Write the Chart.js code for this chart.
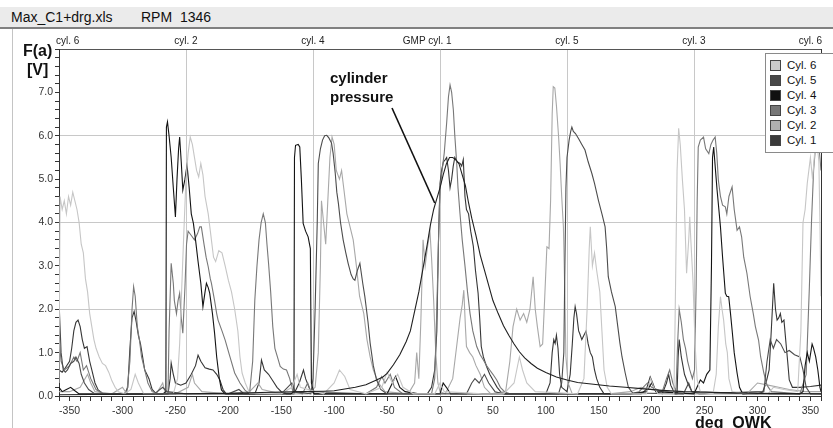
<!DOCTYPE html>
<html>
<head>
<meta charset="utf-8">
<script src="https://cdn.jsdelivr.net/npm/chart.js@4"></script>
<style>
  body { margin: 0; background: #fff; width: 833px; height: 428px; overflow: hidden; position: relative; font-family: "Liberation Sans", Arial, sans-serif; }
  #bar { position: absolute; left: 0; top: 7px; width: 833px; height: 20px; background: #ebebeb; border-bottom: 2px solid #808080; }
  #bar span { position: absolute; top: 0; line-height: 20px; font-size: 14px; color: #111; white-space: pre; }
  #frame { position: absolute; left: 12px; top: 29px; width: 1px; height: 399px; background: #c4c4c4; }
  canvas { position: absolute; left: 0; top: 0; }
  .lbl { position: absolute; font-weight: bold; color: #111; white-space: pre; line-height: 16px; font-size: 16px; }
  .note { position: absolute; font-weight: bold; color: #111; font-size: 15px; line-height: 19px; left: 330px; top: 68px; }
  #legend { position: absolute; left: 765px; top: 53px; width: 75px; height: 98px; border: 1px solid #8a8a8a; background: #fff; }
  .row { position: absolute; left: 4px; height: 12px; line-height: 12px; font-size: 11.5px; font-family: "Liberation Sans Narrow", "Liberation Sans", Arial, sans-serif; color: #111; }
  .sw { position: absolute; left: 0; top: 1px; width: 9px; height: 9px; border: 1px solid #444; }
  .row span { position: absolute; left: 17px; top: 0; white-space: pre; }
</style>
</head>
<body>
<div id="bar"><span style="left:11px">Max_C1+drg.xls</span><span style="left:141px">RPM  1346</span></div>
<div id="frame"></div>
<canvas id="c" width="833" height="428"></canvas>
<div class="lbl" style="left:23px;top:43px">F(a)</div>
<div class="lbl" style="left:27px;top:62px">[V]</div>
<div class="lbl" style="left:695px;top:415px">deg  OWK</div>
<div class="note">cylinder<br>pressure</div>
<div id="legend"></div>
<script>
// crank angle in degrees, sensor signal in volts
const cyl6 = [[-360,0.3],[-359,4.6],[-357,4.3],[-355,4.5],[-353,4.2],[-351,4.6],[-349,4.4],[-347,4.7],[-345,4.5],[-343,4.3],[-341,4.0],[-339,3.5],[-337,3.3],[-335,2.7],[-333,2.4],[-331,1.9],[-329,1.6],[-327,1.3],[-325,1.1],[-322,0.9],[-319,0.75],[-316,0.7],[-313,0.55],[-310,0.35],[-307,0.2],[-304,0.1],[-298,0.05],[-292,0.15],[-288,0.5],[-285,0.3],[-280,0.05],[-252,0.05],[-248,0.4],[-246,1.2],[-244,2.5],[-242,3.8],[-240,5.0],[-238,5.6],[-236,5.97],[-234,5.8],[-232,5.5],[-230,5.2],[-228,5.05],[-226,5.36],[-224,5.1],[-222,4.6],[-219,4.2],[-217,3.8],[-214,3.2],[-212,3.1],[-209,3.35],[-206,3.3],[-203,3.0],[-200,2.67],[-197,2.4],[-194,2.0],[-191,1.5],[-189,0.9],[-187,0.53],[-184,0.3],[-180,0.07],[-150,0.05],[-140,0.2],[-135,0.5],[-132,0.2],[-110,0.05],[-100,0.3],[-95,0.6],[-90,0.45],[-85,0.15],[-70,0.05],[-55,0.2],[-50,0.55],[-45,0.3],[-40,0.5],[-35,0.2],[-25,0.05],[-5,0.05],[0,0.3],[4,0.1],[40,0.05],[60,0.05],[70,0.3],[75,0.9],[78,0.6],[82,0.3],[90,0.1],[130,0.05],[136,0.4],[139,2.0],[141,3.4],[142,3.9],[144,3.0],[146,3.3],[148,2.9],[151,2.4],[153,1.5],[155,0.6],[158,0.2],[162,0.05],[195,0.05],[199,0.4],[202,0.2],[206,0.05],[221,0.05],[222,1.5],[224,5.2],[225.5,6.17],[227,5.8],[229,5.0],[231,4.3],[233,2.83],[235,3.6],[236,4.13],[237,3.6],[239,2.67],[241,1.2],[243,0.37],[246,0.1],[258,0.05],[261,0.5],[263,1.6],[265,2.29],[266.5,2.0],[268,1.75],[270,1.2],[271.5,1.0],[273,0.4],[276,0.1],[290,0.05],[310,0.05],[315,0.2],[325,0.15],[338,0.1],[341,1.5],[343,4.0],[345,4.3],[347,4.9],[349,5.3],[350,5.5],[352,5.0],[354,5.6],[356,5.9],[358,5.4],[359,4.0],[360,2.3]];

const cyl5 = [[-360,2.2],[-359,1.6],[-358,1.0],[-356,0.6],[-354,0.55],[-352,0.6],[-349,0.75],[-346,0.8],[-344,0.9],[-341,0.75],[-339,0.5],[-336,0.3],[-332,0.15],[-326,0.05],[-270,0.05],[-262,0.2],[-258,0.1],[-240,0.05],[-200,0.05],[-190,0.15],[-185,0.05],[-150,0.05],[-140,0.3],[-137,0.1],[-122,0.05],[-120,0.4],[-118,2.0],[-116,4.0],[-115,5.36],[-113,5.7],[-111,5.9],[-109,6.0],[-107,6.01],[-105,5.95],[-102.5,5.83],[-101,5.6],[-99,5.14],[-97.5,4.7],[-96,4.44],[-94,4.0],[-91.5,3.6],[-89,3.3],[-86.8,3.06],[-84,2.8],[-82,2.7],[-80.4,2.67],[-78,2.9],[-75.7,3.06],[-73,2.6],[-71,2.29],[-68,1.7],[-66,1.22],[-63,0.7],[-60,0.37],[-56,0.15],[-50,0.05],[25,0.05],[30,0.3],[33,0.4],[37,0.3],[42,0.5],[46,0.3],[52,0.1],[60,0.05],[112,0.05],[115,0.3],[117,1.0],[118,3.0],[119,4.8],[120,5.5],[122,5.9],[123.5,6.1],[124.6,6.2],[126,6.1],[128,6.05],[131,5.93],[134,5.8],[137,5.67],[140,5.4],[143.5,5.13],[146,4.9],[149.8,4.5],[153,4.2],[156,3.9],[157.5,3.4],[159,2.75],[162,2.4],[165.6,2.06],[168,1.6],[170,1.22],[172,0.9],[175,0.53],[178,0.2],[182,0.07],[230,0.05],[235,0.3],[238,0.1],[300,0.05],[306,0.1],[309,0.8],[312,1.3],[315,1.1],[318,1.3],[322,1.2],[326,1.0],[330,1.05],[335,0.95],[340,0.9],[343,0.6],[346,0.2],[350,0.05],[360,0.05]];

const cyl4 = [[-360,0.2],[-357,0.1],[-353,0.15],[-349,0.2],[-345,0.12],[-341,0.05],[-300,0.05],[-262,0.05],[-259,0.1],[-258.5,6.2],[-257.5,6.32],[-256,6.0],[-254,5.5],[-252,4.8],[-250,4.13],[-248.5,5.0],[-247,5.7],[-246,5.97],[-244.5,5.4],[-243,4.75],[-241,5.0],[-239,5.32],[-237,4.8],[-235,4.2],[-233,3.98],[-231,3.6],[-228.6,3.1],[-226,2.6],[-224,2.06],[-222,2.4],[-220.7,2.6],[-219,2.5],[-217.6,2.37],[-215,1.9],[-213,1.45],[-211,0.9],[-208.5,0.4],[-206.5,0.14],[-203,0.05],[-141,0.05],[-138,0.1],[-137.5,5.5],[-136.5,5.78],[-134,5.8],[-132.5,5.74],[-131,5.0],[-129.3,3.98],[-127,3.8],[-124.6,3.67],[-122.5,3.4],[-121.5,0.3],[-119,0.05],[-50,0.05],[-45,0.3],[-42,0.45],[-38,0.2],[-33,0.1],[-20,0.05],[0,0.05],[3,0.3],[6,0.2],[10,0.05],[180,0.05],[195,0.1],[200,0.3],[204,0.1],[240,0.05],[246,0.37],[249,0.3],[252,0.5],[255,0.6],[256.5,3.0],[257.5,5.5],[258.6,5.74],[260,5.3],[261.8,4.75],[263.5,4.3],[265,3.9],[267,3.2],[269.6,2.37],[271,2.3],[272.8,2.29],[274.5,1.9],[276,1.52],[278,1.0],[280.7,0.53],[283,0.2],[286,0.05],[340,0.05],[343,0.1],[345,0.7],[347,1.0],[349,0.8],[351.6,1.2],[353,1.1],[355,0.9],[357,0.6],[359,0.2],[360,0.1]];

const cyl3 = [[-360,1.3],[-358,0.8],[-355,0.6],[-350,0.7],[-346,0.9],[-343,0.8],[-340,1.0],[-337,0.6],[-334,0.7],[-330,0.4],[-325,0.15],[-318,0.05],[-296,0.05],[-293,0.8],[-291,2.0],[-289.5,2.52],[-288,2.3],[-286,1.6],[-284,1.29],[-282,0.9],[-279,0.6],[-276,0.3],[-272,0.1],[-266,0.05],[-257,0.05],[-256,1.5],[-254,3.06],[-252,2.6],[-251,2.2],[-249,1.9],[-247.5,2.2],[-246,2.37],[-244.5,1.8],[-243,1.45],[-241,2.5],[-239.5,3.5],[-238,3.8],[-235,3.7],[-232,3.6],[-229,3.75],[-227,3.9],[-225.5,3.9],[-223,3.5],[-221,3.2],[-219,2.98],[-217,2.7],[-216,2.6],[-213,2.2],[-211,1.9],[-209.7,1.75],[-206,1.5],[-203,1.29],[-199,0.95],[-194,0.53],[-189,0.3],[-184.5,0.14],[-180,0.05],[-177,0.8],[-175,2.2],[-173,2.98],[-171,3.6],[-169,4.0],[-167,4.2],[-165,4.0],[-163.5,3.5],[-162,3.06],[-160,2.4],[-158,1.6],[-156,1.1],[-153,0.85],[-151,0.68],[-148,0.62],[-145,0.6],[-142,0.4],[-139,0.1],[-130,0.05],[-125,0.3],[-122,0.1],[-70,0.05],[-60,0.2],[-55,0.45],[-52,0.3],[-47,0.5],[-43,0.2],[-35,0.05],[-8,0.05],[-5,0.4],[-3,2.0],[-1,4.0],[0,4.75],[2,5.2],[4,5.6],[6.3,6.3],[8,6.9],[9.5,7.17],[11,7.0],[12.6,6.6],[14,6.0],[15.8,5.36],[17,4.8],[18.9,4.2],[21,3.6],[23.6,3.0],[26,2.4],[28.4,1.9],[31,1.5],[34.7,1.14],[38,0.95],[41,0.83],[44,0.7],[47,0.6],[50,0.5],[53.6,0.37],[57,0.2],[61,0.1],[66,0.05],[180,0.05],[188,0.1],[196,0.3],[200,0.2],[210,0.1],[214,0.4],[217,0.6],[220,0.3],[223,0.1],[224.5,1.2],[226,2.0],[228,1.7],[230,1.3],[232,1.1],[234,0.8],[236,0.6],[238.5,0.4],[240.5,0.6],[242,2.5],[243,4.5],[244,5.74],[246,5.9],[249,5.97],[251,5.7],[254,5.59],[256,5.8],[258,5.9],[260,5.97],[261.5,5.6],[263,4.98],[265,4.6],[267,4.4],[269.6,4.36],[271,4.2],[273,4.6],[276,4.82],[278,4.3],[280.7,3.82],[283,3.9],[285,3.67],[287,3.2],[290,2.83],[293,2.3],[296,1.9],[298,1.6],[301,1.29],[303,0.9],[306,0.53],[309,0.25],[313,0.1],[340,0.05],[346,0.5],[349,2.5],[351,4.0],[353,5.2],[355,5.8],[357,6.0],[359,5.5],[360,5.2]];

const cyl2 = [[-360,0.1],[-350,0.1],[-340,0.2],[-333,0.5],[-330,0.3],[-326,0.1],[-310,0.05],[-300,0.2],[-296,0.05],[-268,0.05],[-262,0.3],[-260,0.1],[-250,0.05],[-238,0.2],[-234,0.5],[-232,0.3],[-225,0.1],[-200,0.05],[-180,0.1],[-172,0.3],[-168,0.15],[-150,0.05],[-125,0.05],[-118,0.2],[-115,1.0],[-113,3.0],[-112,4.5],[-110,4.0],[-108,3.5],[-106,4.5],[-104,5.5],[-102,5.97],[-100,5.8],[-98,5.2],[-95,5.0],[-93,5.2],[-91,4.8],[-88,4.2],[-85,3.9],[-82,3.6],[-79,3.0],[-76,2.3],[-72,1.9],[-69,1.3],[-66,0.9],[-63,0.6],[-58,0.3],[-52,0.1],[-30,0.05],[-24,0.3],[-22,1.0],[-20,0.4],[-18,1.8],[-16,3.6],[-14,3.0],[-12,3.4],[-9.5,3.8],[-8,3.2],[-6,2.2],[-4,1.0],[-2,0.3],[0,0.1],[5,0.05],[12,0.4],[16,1.2],[19,1.8],[21,2.1],[22.5,2.44],[24,1.6],[25,1.14],[28,1.0],[31,0.9],[34,0.7],[38,0.5],[42,0.2],[48,0.05],[62,0.1],[66,0.8],[69,1.6],[72.5,2.0],[75.7,1.75],[79,1.9],[82,1.7],[85,2.0],[88,2.75],[90,2.0],[92,1.6],[94.6,1.14],[97,1.2],[99,2.3],[101,3.44],[103,3.4],[104.5,4.5],[106,6.5],[107,7.13],[108.5,7.1],[110,6.7],[112,6.0],[113.5,5.36],[115,4.6],[116.6,3.9],[118,2.3],[119,0.9],[121,0.3],[125,0.05],[160,0.05],[180,0.1],[190,0.2],[200,0.15],[215,0.1],[225,0.05],[290,0.05],[300,0.3],[310,0.25],[320,0.2],[330,0.15],[345,0.1],[360,0.1]];

const cyl1 = [[-360,0.6],[-357,0.55],[-354,0.65],[-350,0.8],[-348,1.1],[-346,1.5],[-344,1.7],[-342,1.75],[-340,1.6],[-338,1.3],[-336,1.1],[-333.5,1.14],[-331,0.8],[-329,0.6],[-326,0.3],[-323,0.14],[-318,0.05],[-298,0.05],[-295,0.2],[-293,1.1],[-291,1.8],[-289,1.95],[-287,1.7],[-285,1.4],[-283,1.2],[-281,0.9],[-279,0.6],[-277,0.5],[-275,0.4],[-272,0.15],[-268,0.05],[-257,0.05],[-255,0.4],[-254,0.76],[-252,0.5],[-250,0.3],[-245,0.25],[-240,0.3],[-235,0.5],[-231,0.7],[-228.6,0.94],[-226,0.8],[-222,0.65],[-218,0.62],[-214.5,0.6],[-211,0.5],[-208,0.37],[-205,0.15],[-202,0.05],[-175,0.05],[-171,0.3],[-168.7,0.83],[-166,0.6],[-162,0.5],[-158,0.35],[-154,0.2],[-150,0.1],[-145,0.05],[-138,0.05],[-133,0.3],[-129,0.6],[-127,0.4],[-123,0.15],[-119,0.05],[-12,0.05],[-8,0.2],[-5,0.6],[-3,1.5],[-1.5,3.5],[0,4.9],[1.5,5.2],[3.2,5.4],[5,5.45],[6.3,5.5],[8,5.2],[9.5,4.8],[11,5.0],[12.5,5.3],[14,5.5],[16,5.4],[19,5.36],[20.5,5.3],[22,5.45],[23.6,4.6],[25,4.3],[27,4.2],[29,3.8],[31.5,3.45],[33.5,2.9],[36,2.37],[37.5,1.8],[39,1.14],[41,0.9],[44,0.68],[47,0.5],[50,0.37],[54,0.2],[58,0.08],[62,0.05],[100,0.05],[104,0.3],[106,1.0],[107.5,1.3],[108.8,1.21],[110,1.4],[111.5,1.1],[113,0.5],[115,0.2],[120,0.1],[123,0.5],[125,1.2],[126.5,1.8],[127.7,2.06],[129,1.9],[131,1.5],[132,1.44],[134,1.3],[136,1.4],[138,1.5],[140,1.2],[142,1.0],[144,0.9],[146,0.6],[148,0.4],[151,0.2],[155,0.05],[190,0.05],[195,0.15],[198.6,0.44],[201,0.3],[204,0.1],[210,0.05],[214,0.3],[216,0.5],[218,0.25],[222,0.05],[224,0.05],[225,0.9],[226,1.3],[228,0.9],[231,0.5],[234,0.3],[238,0.1],[245,0.05],[305,0.1],[308,0.3],[311,0.6],[313,1.5],[315.3,2.6],[317,2.0],[318.5,1.75],[320,1.8],[321.6,1.9],[323,1.7],[325,1.75],[327,1.2],[328.5,0.8],[330,0.37],[333,0.2],[340,0.2],[350,0.22],[360,0.25]];

const pressure = [[-360,0.03],[-300,0.04],[-250,0.05],[-200,0.06],[-170,0.08],[-150,0.09],[-130,0.1],[-110,0.11],[-100,0.12],[-90,0.16],[-80,0.2],[-70,0.26],[-60,0.37],[-54,0.44],[-50,0.52],[-44,0.72],[-38,0.95],[-32,1.25],[-28,1.5],[-24,1.95],[-20,2.4],[-16,2.95],[-12,3.5],[-9,3.95],[-6,4.3],[-3,4.55],[0,4.8],[3,5.1],[6,5.35],[9,5.5],[12,5.5],[15,5.45],[18,5.35],[21,5.1],[24,4.85],[27,4.45],[30,4.1],[34,3.7],[38,3.25],[42,2.9],[46,2.55],[50,2.2],[55,1.9],[60,1.62],[65,1.4],[70,1.2],[75,1.02],[80,0.88],[86,0.75],[92,0.64],[100,0.54],[110,0.44],[120,0.37],[130,0.31],[145,0.27],[160,0.23],[175,0.2],[190,0.17],[210,0.13],[230,0.1],[260,0.08],[300,0.06],[360,0.05]];

const cylLabels = ['Cyl. 6', 'Cyl. 5', 'Cyl. 4', 'Cyl. 3', 'Cyl. 2', 'Cyl. 1'];
const cylSeries = [cyl6, cyl5, cyl4, cyl3, cyl2, cyl1];
const cylColors = ['#c6c6c6', '#4c4c4c', '#141414', '#787878', '#a8a8a8', '#363636'];
const swatchColors = ['#cacaca', '#484848', '#111111', '#777777', '#b0b0b0', '#3a3a3a'];

const topTickAngles = [-360, -240, -120, 0, 120, 240, 360];
const topTickLabels = ['cyl. 6', 'cyl. 2', 'cyl. 4', 'GMP cyl. 1', 'cyl. 5', 'cyl. 3', 'cyl. 6'];
const arrowTip = [-5, 4.45];

const tickFont = { family: '"Liberation Sans", Arial, sans-serif', size: 10.5 };

const datasets = cylSeries.map((s, i) => ({
  label: cylLabels[i],
  data: s.map(p => ({ x: p[0], y: p[1] })),
  borderColor: cylColors[i],
  borderWidth: 1.1,
  showLine: true,
  pointRadius: 0
}));
datasets.unshift({
  label: 'cylinder pressure',
  data: pressure.map(p => ({ x: p[0], y: p[1] })),
  borderColor: '#202020',
  borderWidth: 1.1,
  showLine: true,
  pointRadius: 0
});

const topLabels = {
  id: 'topLabels',
  afterDraw(chart) {
    const s = chart.scales.x2, c = chart.ctx;
    c.save();
    c.font = '10px "Liberation Sans Narrow", "Liberation Sans", Arial, sans-serif';
    c.fillStyle = '#222';
    c.textBaseline = 'middle';
    topTickAngles.forEach((a, i) => {
      const px = s.getPixelForValue(a);
      const t = topTickLabels[i];
      if (i === 0) {
        c.textAlign = 'left';
        c.fillText(t, px - 3, 41);
      } else if (i === topTickAngles.length - 1) {
        c.textAlign = 'right';
        c.fillText(t, px + 1, 41);
      } else {
        const tail = t.slice(t.lastIndexOf('cyl'));
        c.textAlign = 'right';
        c.fillText(t, px + c.measureText(tail).width / 2, 41);
      }
    });
    c.restore();
  }
};

const arrow = {
  id: 'arrow',
  afterDatasetsDraw(chart) {
    const c = chart.ctx;
    const x = chart.scales.x.getPixelForValue(arrowTip[0]);
    const y = chart.scales.y.getPixelForValue(arrowTip[1]);
    c.save();
    c.strokeStyle = '#111';
    c.lineWidth = 1.6;
    c.beginPath();
    c.moveTo(392, 108);
    c.lineTo(x, y);
    c.stroke();
    c.restore();
  }
};

new Chart(document.getElementById('c'), {
  type: 'scatter',
  data: { datasets },
  options: {
    responsive: false,
    animation: false,
    devicePixelRatio: 1,
    layout: { padding: { left: 0, right: 12, top: 0, bottom: 0 } },
    plugins: { legend: { display: false }, tooltip: { enabled: false } },
    scales: {
      x: {
        type: 'linear', position: 'bottom', min: -360, max: 360,
        afterBuildTicks: s => { s.ticks = []; for (let v = -360; v <= 360; v += 10) s.ticks.push({ value: v }); },
        afterFit: s => { s.height = 32; },
        ticks: { autoSkip: false, maxRotation: 0, padding: 4, color: '#333', font: tickFont,
          callback: v => (v % 50 === 0 && Math.abs(v) < 360) ? String(v) : '' },
        grid: { drawOnChartArea: false, tickLength: 5, tickColor: '#333' },
        border: { color: '#333' }
      },
      x2: {
        type: 'linear', position: 'top', min: -360, max: 360,
        afterBuildTicks: s => { s.ticks = topTickAngles.map(v => ({ value: v })); },
        afterFit: s => { s.height = 49; },
        ticks: { display: false },
        grid: { color: '#c8c8c8', drawTicks: false },
        border: { color: '#555' }
      },
      y: {
        min: 0, max: 8,
        afterBuildTicks: s => { s.ticks = []; for (let i = 0; i <= 40; i++) s.ticks.push({ value: i / 5 }); },
        afterFit: s => { s.width = 59; },
        ticks: { autoSkip: false, padding: 2, color: '#333', font: tickFont,
          callback: v => (Math.abs(v - Math.round(v)) < 1e-6 && v < 8) ? v.toFixed(1) : '' },
        grid: {
          color: c => [2, 4, 6].some(g => Math.abs(c.tick.value - g) < 1e-6) ? '#c8c8c8' : 'rgba(0,0,0,0)',
          tickLength: 4, tickColor: '#333'
        },
        border: { color: '#333' }
      },
      y2: {
        position: 'right', min: 0, max: 8,
        afterFit: s => { s.width = 0; },
        ticks: { display: false },
        grid: { display: false },
        border: { color: '#333' }
      }
    }
  },
  plugins: [topLabels, arrow]
});

// legend box, built from the same labels and colours
const lg = document.getElementById('legend');
cylLabels.forEach((name, i) => {
  const row = document.createElement('div');
  row.className = 'row';
  row.style.top = (5 + i * 14.9) + 'px';
  row.innerHTML = '<div class="sw" style="background:' + swatchColors[i] + '"></div><span>' + name + '</span>';
  lg.appendChild(row);
});
</script>
</body>
</html>
